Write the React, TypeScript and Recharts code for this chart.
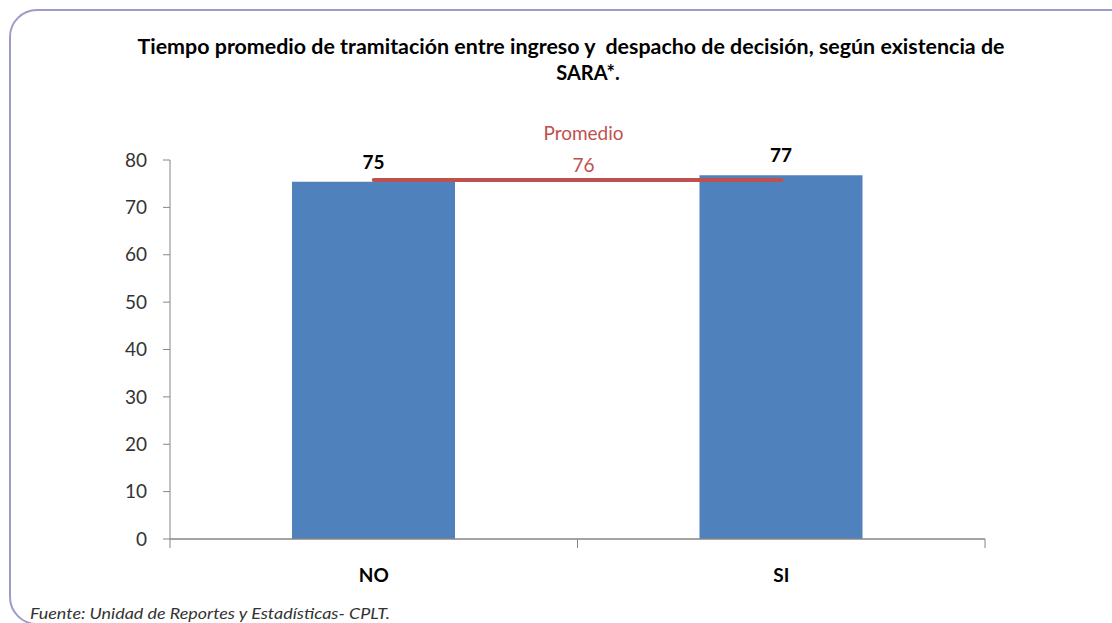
import { BarChart, Bar, XAxis, YAxis, ReferenceLine, LabelList } from "recharts";

const categories = ["NO", "SI"];
const tiempoPromedio = [75.4, 76.8];
const valueLabels = ["75", "77"];
const promedioGeneral = 75.8;
const promedioLabel = "76";
const yTicks = [0, 10, 20, 30, 40, 50, 60, 70, 80];

const TITLE_1 = "Tiempo promedio de tramitación entre ingreso y  despacho de decisión, según existencia de";
const TITLE_2 = "SARA*.";
const FOOTER = "Fuente: Unidad de Reportes y Estadísticas- CPLT.";

const FONT = "Lato, 'Open Sans', sans-serif";
const AXIS = "#868686";
const BAR = "#4F81BD";
const RED = "#C0504D";

// bars sit at the middle of each category band, boundaries get the tick marks
const chartData = categories.map((name, i) => ({
  pos: i + 0.5,
  name,
  value: tiempoPromedio[i],
  label: valueLabels[i],
}));
const xTicks = [0, 0.5, 1, 1.5, 2];

function XTick({ x, y, payload }: any) {
  const v = payload.value;
  if (Number.isInteger(v)) {
    return <line x1={x} x2={x} y1={y} y2={y + 9} stroke={AXIS} strokeWidth={1} />;
  }
  return (
    <text
      x={x}
      y={y + 43}
      textAnchor="middle"
      fontFamily={FONT}
      fontWeight={700}
      fontSize={19}
      fill="#000"
    >
      {categories[Math.floor(v)]}
    </text>
  );
}

function PromedioLabel(props: any) {
  const vb = props.viewBox || {};
  const cx = (vb.x ?? 372) + (vb.width ?? 410) / 2 + 6;
  const ly = vb.y ?? 180;
  return (
    <g fontFamily={FONT} fontSize={19} fill={RED} textAnchor="middle">
      <text x={cx} y={ly - 40}>Promedio</text>
      <text x={cx} y={ly - 8}>{promedioLabel}</text>
    </g>
  );
}

export default function App() {
  return (
    <div
      style={{
        position: "absolute",
        top: 0,
        left: 0,
        width: 1112,
        height: 623,
        background: "#fff",
        overflow: "hidden",
      }}
    >
      <BarChart
        width={1112}
        height={623}
        data={chartData}
        margin={{ top: 160, right: 127, left: 110, bottom: 0 }}
      >
        <XAxis
          dataKey="pos"
          type="number"
          domain={[0, 2]}
          ticks={xTicks}
          interval={0}
          tickLine={false}
          tickSize={0}
          tickMargin={0}
          tick={<XTick />}
          height={84}
          axisLine={{ stroke: AXIS, strokeWidth: 1.5 }}
        />
        <YAxis
          domain={[0, 80]}
          ticks={yTicks}
          interval={0}
          width={60}
          tickSize={7}
          tickMargin={16}
          axisLine={{ stroke: AXIS }}
          tickLine={{ stroke: AXIS }}
          tick={{ fill: "#333", fontSize: 19, fontFamily: FONT }}
        />
        <Bar dataKey="value" fill={BAR} barSize={163} isAnimationActive={false}>
          <LabelList
            dataKey="label"
            position="top"
            offset={13}
            fill="#000"
            fontSize={19}
            fontWeight={700}
            fontFamily={FONT}
          />
        </Bar>
        <ReferenceLine
          segment={[
            { x: chartData[0].pos, y: promedioGeneral },
            { x: chartData[1].pos, y: promedioGeneral },
          ]}
          stroke={RED}
          strokeWidth={4}
          strokeLinecap="round"
          ifOverflow="visible"
          label={PromedioLabel}
        />
      </BarChart>
      <svg
        width={1112}
        height={623}
        style={{ position: "absolute", top: 0, left: 0, pointerEvents: "none" }}
      >
        <rect x={10} y={10} width={1130} height={614} rx={27} fill="none" stroke="#9c9cc8" strokeWidth={2} />
        <text
          x={571}
          y={54}
          textAnchor="middle"
          fontFamily={FONT}
          fontWeight={700}
          fontSize={20}
          fill="#000"
          textLength={867}
          lengthAdjust="spacingAndGlyphs"
          style={{ whiteSpace: "pre" }}
        >
          {TITLE_1}
        </text>
        <text x={588} y={80} textAnchor="middle" fontFamily={FONT} fontWeight={700} fontSize={20} fill="#000">
          {TITLE_2}
        </text>
        <text
          x={30}
          y={619}
          fontFamily={FONT}
          fontStyle="italic"
          fontSize={16}
          fill="#333"
          textLength={360}
          lengthAdjust="spacingAndGlyphs"
        >
          {FOOTER}
        </text>
      </svg>
    </div>
  );
}
